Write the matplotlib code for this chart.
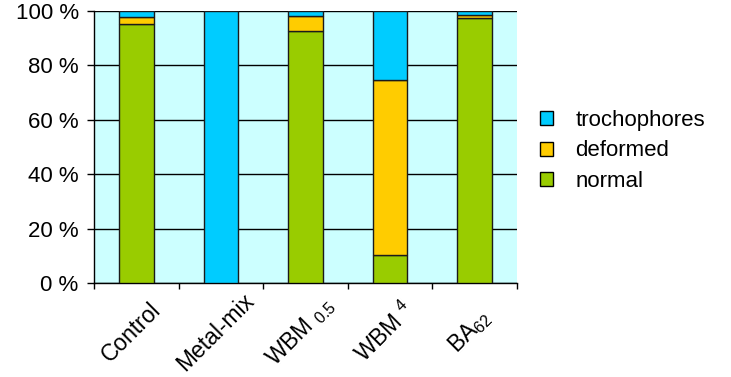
import matplotlib
matplotlib.use("Agg")
import matplotlib.pyplot as plt
import matplotlib.transforms as mtransforms
import numpy as np
from matplotlib.patches import Patch

plt.rcParams['font.family'] = ['Liberation Sans', 'DejaVu Sans']
plt.rcParams['mathtext.fontset'] = 'custom'
plt.rcParams['mathtext.rm'] = 'Liberation Sans'
plt.rcParams['mathtext.it'] = 'Liberation Sans'
plt.rcParams['mathtext.default'] = 'regular'

categories = ['Control', 'Metal-mix', 'WBM $_{0.5}$', 'WBM $^{4}$', 'BA$_{62}$']
normal = [95.2, 0.0, 92.6, 10.3, 97.3]
deformed = [2.5, 0.0, 5.4, 64.3, 1.1]
trochophores = [2.3, 100.0, 2.0, 25.4, 1.6]

c_normal = '#99CC00'
c_deformed = '#FFCC00'
c_troch = '#00CCFF'

W, H, DPI = 731, 377, 100
fig = plt.figure(figsize=(W / DPI, H / DPI), dpi=DPI)
ax = fig.add_axes([94 / W, 1 - 283 / H, (517 - 94) / W, (283 - 11) / H])
ax.set_facecolor('#CCFFFF')

x = np.arange(len(categories))
bw = 0.41
normal = np.array(normal)
deformed = np.array(deformed)
trochophores = np.array(trochophores)
kw = dict(width=bw, edgecolor='#1a1a1a', linewidth=1.0, zorder=3)
ax.bar(x, normal, color=c_normal, **kw)
ax.bar(x, deformed, bottom=normal, color=c_deformed, **kw)
ax.bar(x, trochophores, bottom=normal + deformed, color=c_troch, **kw)

ax.set_xlim(-0.5, len(categories) - 0.5)
ax.set_ylim(0, 100)
ax.set_yticks(np.arange(0, 101, 20))
ax.set_yticklabels([f'{v} %' for v in range(0, 101, 20)], fontsize=16)
ax.yaxis.grid(True, color='black', linewidth=1.0, zorder=1)
ax.set_axisbelow(True)
shift = mtransforms.ScaledTranslation(0, -4 / DPI, fig.dpi_scale_trans)
for lab in ax.get_yticklabels():
    lab.set_transform(lab.get_transform() + shift)

# ticks sit between categories; labels are placed rotated below each bar
ax.set_xticks(np.arange(-0.5, len(categories), 1.0))
ax.set_xticklabels([])
ax.tick_params(axis='x', which='major', length=4, direction='out', width=1)
ax.tick_params(axis='y', length=5, direction='out', width=1, pad=6)
px = 72 / DPI
for i, name in enumerate(categories):
    ax.annotate(name, xy=(i, 0), xycoords=('data', 'axes fraction'),
                xytext=(-5 * px, -49 * px), textcoords='offset points',
                rotation=45, rotation_mode='anchor', ha='center', va='center',
                fontsize=16.5)

for s in ['top', 'right']:
    ax.spines[s].set_visible(False)
ax.spines['left'].set_linewidth(1.0)
ax.spines['bottom'].set_linewidth(1.0)

handles = [Patch(facecolor=c_troch, edgecolor='black', label='trochophores'),
           Patch(facecolor=c_deformed, edgecolor='black', label='deformed'),
           Patch(facecolor=c_normal, edgecolor='black', label='normal')]
fig.legend(handles=handles, loc='center left', bbox_to_anchor=(540 / W, 1 - 151 / H),
           frameon=False, fontsize=16, handlelength=0.6, handleheight=0.6,
           handletextpad=1.0, labelspacing=0.42, borderpad=0, borderaxespad=0)

fig.savefig('out.png', dpi=DPI)
